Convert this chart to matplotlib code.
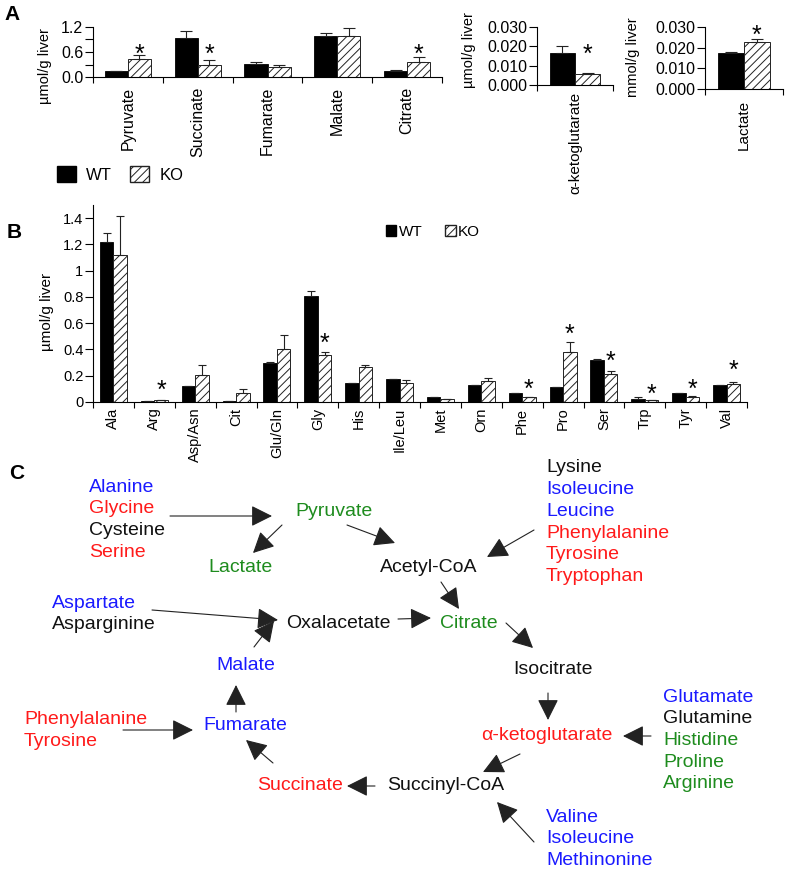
import numpy as np
import matplotlib
matplotlib.use("Agg")
import matplotlib.pyplot as plt
from matplotlib.patches import Patch, FancyArrowPatch

plt.rcParams["font.family"] = ["Liberation Sans", "DejaVu Sans"]
plt.rcParams["hatch.linewidth"] = 0.7
plt.rcParams["hatch.color"] = "#333333"

# ---- panel A data ----
tca_names = ["Pyruvate", "Succinate", "Fumarate", "Malate", "Citrate"]
tca_wt = [0.15, 0.94, 0.32, 0.98, 0.15]
tca_wt_err = [0.0, 0.17, 0.04, 0.08, 0.02]
tca_ko = [0.44, 0.29, 0.25, 0.98, 0.37]
tca_ko_err = [0.08, 0.11, 0.04, 0.20, 0.11]
tca_star = [True, True, False, False, True]
tca_star_y = [0.71, 0.70, 0, 0, 0.71]

akg_name = ["α-ketoglutarate"]
akg_wt = [0.0164]
akg_wt_err = [0.0039]
akg_ko = [0.0058]
akg_ko_err = [0.0005]
akg_star_y = [0.0191]

lac_name = ["Lactate"]
lac_wt = [0.0172]
lac_wt_err = [0.0008]
lac_ko = [0.0225]
lac_ko_err = [0.0016]
lac_star_y = [0.029]

# ---- panel B data ----
aa_names = ["Ala", "Arg", "Asp/Asn", "Cit", "Glu/Gln", "Gly", "His", "Ile/Leu",
            "Met", "Orn", "Phe", "Pro", "Ser", "Trp", "Tyr", "Val"]
aa_wt = [1.215, 0.005, 0.12, 0.008, 0.294, 0.81, 0.142, 0.177,
         0.036, 0.129, 0.068, 0.112, 0.317, 0.02, 0.068, 0.129]
aa_wt_err = [0.071, 0.0, 0.0, 0.0, 0.013, 0.037, 0.0, 0.0,
             0.0, 0.0, 0.0, 0.0, 0.01, 0.018, 0.0, 0.0]
aa_ko = [1.116, 0.012, 0.205, 0.068, 0.40, 0.355, 0.264, 0.147,
         0.025, 0.157, 0.038, 0.38, 0.213, 0.013, 0.04, 0.139]
aa_ko_err = [0.304, 0.0, 0.079, 0.031, 0.112, 0.025, 0.02, 0.018,
             0.0, 0.028, 0.0, 0.074, 0.023, 0.0, 0.008, 0.013]
aa_star_y = {"Arg": 0.137, "Gly": 0.50, "Phe": 0.145, "Pro": 0.563,
             "Ser": 0.36, "Trp": 0.107, "Tyr": 0.15, "Val": 0.289}
b_yticks = [0, 0.2, 0.4, 0.6, 0.8, 1.0, 1.2, 1.4]
b_ytick_labels = ["0", "0.2", "0.4", "0.6", "0.8", "1", "1.2", "1.4"]

# ---- panel C text ----
BLUE, RED, GREEN, BLACK = "#1a1aff", "#ff1a1a", "#1e8c1e", "#111111"
nodes = [("Pyruvate", GREEN), ("Lactate", GREEN), ("Acetyl-CoA", BLACK),
         ("Oxalacetate", BLACK), ("Citrate", GREEN), ("Isocitrate", BLACK),
         ("α-ketoglutarate", RED), ("Succinyl-CoA", BLACK), ("Succinate", RED),
         ("Fumarate", BLUE), ("Malate", BLUE)]
node_xy = [(295, 512), (208, 568), (380, 567), (286, 624), (440, 624), (513, 670),
           (481, 736), (387, 786), (257, 786), (203, 726), (216, 665)]
groups = [
    [("Alanine", BLUE), ("Glycine", RED), ("Cysteine", BLACK), ("Serine", RED)],
    [("Lysine", BLACK), ("Isoleucine", BLUE), ("Leucine", BLUE),
     ("Phenylalanine", RED), ("Tyrosine", RED), ("Tryptophan", RED)],
    [("Aspartate", BLUE), ("Asparginine", BLACK)],
    [("Phenylalanine", RED), ("Tyrosine", RED)],
    [("Glutamate", BLUE), ("Glutamine", BLACK), ("Histidine", GREEN),
     ("Proline", GREEN), ("Arginine", GREEN)],
    [("Valine", BLUE), ("Isoleucine", BLUE), ("Methinonine", BLUE)],
]
group_xy = [(89, 487), (546, 468), (52, 603), (24, 720), (663, 697), (546, 817)]
arrows = [((170, 516), (272, 516)), ((282, 525), (253, 553)), ((347, 525), (395, 543)),
          ((534, 530), (487, 557)), ((152, 610), (278, 620)), ((254, 647), (274, 621)),
          ((398, 619), (431, 618)), ((441, 582), (459, 609)), ((506, 623), (533, 648)),
          ((548, 693), (548, 720)), ((651, 736), (623, 736)), ((520, 754), (483, 772)),
          ((534, 842), (497, 802)), ((375, 786), (347, 786)), ((273, 763), (246, 740)),
          ((123, 730), (193, 730)), ((236, 712), (236, 685))]

W, H = 787, 873
fig = plt.figure(figsize=(W / 100, H / 100), dpi=100)


def px_axes(x0, y0, x1, y1):
    return fig.add_axes([x0 / W, 1 - y1 / H, (x1 - x0) / W, (y1 - y0) / H])


def bar_panel(ax, names, wt, wt_err, ko, ko_err, capsize, lab_pad, lab_size):
    x = np.arange(len(names))
    bw = 0.33
    ekw = dict(ecolor="#222222", elinewidth=0.8, capthick=0.8)
    ax.bar(x - bw / 2, wt, bw, color="black", edgecolor="black", linewidth=0.6,
           yerr=[np.zeros(len(x)), wt_err], capsize=capsize, error_kw=ekw, label="WT")
    ax.bar(x + bw / 2, ko, bw, color="white", edgecolor="#222222", linewidth=0.7,
           hatch="////", yerr=[np.zeros(len(x)), ko_err], capsize=capsize,
           error_kw=ekw, label="KO")
    ax.set_xlim(-0.5, len(names) - 0.5)
    ax.set_xticks(np.arange(len(names) + 1) - 0.5, [""] * (len(names) + 1))
    ax.set_xticks(x, names, minor=True, rotation=90)
    ax.tick_params(axis="x", which="major", length=4.5, width=0.8, direction="out")
    ax.tick_params(axis="x", which="minor", length=0, pad=lab_pad, labelsize=lab_size)
    ax.tick_params(axis="y", length=5.5, width=0.8, pad=1.5, labelsize=11.5)
    for s in ["top", "right"]:
        ax.spines[s].set_visible(False)
    for s in ["left", "bottom"]:
        ax.spines[s].set_linewidth(0.8)
    return x, bw


def star(ax, xpos, ypos, size=18):
    ax.annotate("*", (xpos, ypos), xytext=(0, -0.57 * size), textcoords="offset points",
                ha="center", va="baseline", fontsize=size, annotation_clip=False)


# panel A, left
ax1 = px_axes(93, 27, 442, 77)
x, bw = bar_panel(ax1, tca_names, tca_wt, tca_wt_err, tca_ko, tca_ko_err, 4.3, 7, 11.5)
ax1.set_ylim(0, 1.2)
ax1.set_yticks([0, 0.3, 0.6, 0.9, 1.2], ["0.0", "", "0.6", "", "1.2"])
for i, s in enumerate(tca_star):
    if s:
        star(ax1, x[i] + bw / 2, tca_star_y[i])

# panel A, alpha-ketoglutarate
ax2 = px_axes(537, 27, 613, 85)
x, bw = bar_panel(ax2, akg_name, akg_wt, akg_wt_err, akg_ko, akg_ko_err, 4.3, 5, 11)
ax2.set_ylim(0, 0.03)
ax2.set_yticks([0, 0.01, 0.02, 0.03], ["0.000", "0.010", "0.020", "0.030"])
star(ax2, x[0] + bw / 2, akg_star_y[0])

# panel A, lactate
ax3 = px_axes(705, 27, 783, 89)
x, bw = bar_panel(ax3, lac_name, lac_wt, lac_wt_err, lac_ko, lac_ko_err, 4.3, 8, 11)
ax3.set_ylim(0, 0.03)
ax3.set_yticks([0, 0.01, 0.02, 0.03], ["0.000", "0.010", "0.020", "0.030"])
star(ax3, x[0] + bw / 2, lac_star_y[0])

fig.text(45 / W, 1 - 66 / H, "µmol/g liver", rotation=90, ha="center", va="center", fontsize=10.5)
fig.text(469 / W, 1 - 50 / H, "µmol/g liver", rotation=90, ha="center", va="center", fontsize=10.5)
fig.text(633 / W, 1 - 57 / H, "mmol/g liver", rotation=90, ha="center", va="center", fontsize=10.5)

h_wt = Patch(facecolor="black", edgecolor="black")
h_ko = Patch(facecolor="white", edgecolor="#222222", hatch="////")
fig.legend([h_wt, h_ko], ["WT", "KO"], loc="upper left", bbox_to_anchor=(57 / W, 1 - 166 / H),
           ncol=2, frameon=False, fontsize=12, handlelength=1.14, handleheight=1.14,
           handletextpad=0.6, columnspacing=1.1, borderpad=0, borderaxespad=0)

# panel B
axb = px_axes(93, 205, 747, 402)
x, bw = bar_panel(axb, aa_names, aa_wt, aa_wt_err, aa_ko, aa_ko_err, 3.2, 4, 10.5)
axb.set_ylim(0, 1.5)
axb.set_yticks(b_yticks, b_ytick_labels)
axb.tick_params(axis="y", labelsize=10.5)
for i, n in enumerate(aa_names):
    if n in aa_star_y:
        star(axb, x[i] + bw / 2, aa_star_y[n])
fig.text(47 / W, 1 - 312 / H, "µmol/g liver", rotation=90, ha="center", va="center", fontsize=11)
fig.legend([h_wt, h_ko], ["WT", "KO"], loc="center left", bbox_to_anchor=(386 / W, 1 - 232 / H),
           ncol=2, frameon=False, fontsize=11, handlelength=0.68, handleheight=0.68,
           handletextpad=0.15, columnspacing=1.5, borderpad=0, borderaxespad=0)

# panel letters
for letter, (lx, ly) in zip("ABC", [(12, 15), (14, 232), (17, 474)]):
    fig.text(lx / W, 1 - ly / H, letter, fontsize=15, fontweight="bold", ha="center", va="center")

# panel C diagram
axc = fig.add_axes([0, 0, 1, 1])
axc.set_xlim(0, W)
axc.set_ylim(H, 0)
axc.axis("off")
for (name, col), (tx, ty) in zip(nodes, node_xy):
    axc.text(tx, ty, name, color=col, fontsize=14, ha="left", va="center")
for grp, (gx, gy) in zip(groups, group_xy):
    for k, (name, col) in enumerate(grp):
        axc.text(gx, gy + k * 21.7, name, color=col, fontsize=14, ha="left", va="center")
for (p0, p1) in arrows:
    axc.add_patch(FancyArrowPatch(p0, p1, arrowstyle="-|>,head_length=1.3,head_width=0.65",
                                  mutation_scale=10, color="#222222", linewidth=0.8,
                                  shrinkA=0, shrinkB=0))

fig.savefig("out.png", dpi=100)
